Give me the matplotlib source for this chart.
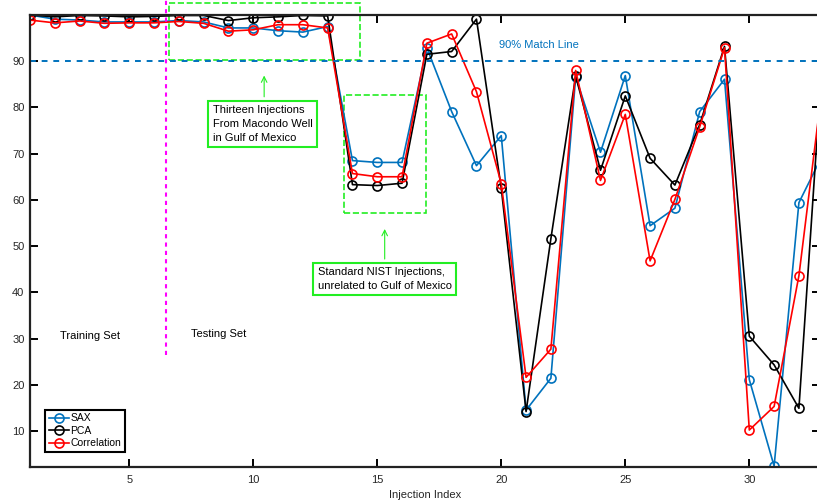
import matplotlib.pyplot as plt
from matplotlib.patches import Rectangle

plt.rcParams['font.family'] = ['Liberation Sans', 'DejaVu Sans']

# injection index 1..33 (33 lies just past the right edge)
idx = list(range(1, 34))

sax = [100.0, 99.1, 98.9, 98.5, 98.5, 98.5, 98.8, 98.5, 97.2, 97.2, 96.6, 96.3, 97.5,
       68.5, 68.1, 68.1, 92.9, 79.1, 67.4, 73.9, 14.5, 21.4, 86.6, 70.3, 86.9,
       54.4, 58.2, 79.1, 86.1, 21.1, 2.4, 59.4, 70.2]
pca = [100.0, 99.6, 99.9, 99.8, 99.6, 99.7, 99.9, 99.9, 98.8, 99.4, 99.6, 99.9, 99.8,
       63.3, 63.1, 63.6, 91.5, 92.1, 99.1, 62.5, 14.2, 51.6, 86.8, 66.4, 82.5,
       69.0, 63.2, 76.3, 93.2, 30.5, 24.3, 14.9, 95.0]
corr = [98.9, 98.3, 98.7, 98.2, 98.3, 98.3, 98.6, 98.2, 96.5, 96.8, 97.9, 97.9, 97.2,
        65.7, 65.0, 65.0, 93.9, 95.9, 83.4, 63.5, 21.6, 27.7, 88.0, 64.2, 78.5,
        46.8, 60.1, 75.8, 92.9, 10.2, 15.3, 43.6, 87.0]

series_names = ['SAX', 'PCA', 'Correlation']
series_colors = ['#0072BD', 'black', 'red']

fig = plt.figure(figsize=(8.17, 5.0), dpi=100)
ax = fig.add_axes([30 / 817, 33 / 500, 790 / 817, 452 / 500])

for vals, name, col in zip([sax, pca, corr], series_names, series_colors):
    ax.plot(idx, vals, '-o', color=col, mfc='none', mec=col, ms=6.5, lw=1.2, mew=1.2, label=name)

ax.set_xlim(1, 32.85)
ax.set_ylim(2.2, 100)
ax.set_xticks([5, 10, 15, 20, 25, 30])
ax.set_yticks(range(10, 100, 10))

# 90% match line
ax.axhline(90, color='#0072BD', ls='--', lw=1.4, dashes=(3, 3))
ax.text(19.9, 93.5, '90% Match Line', color='#0072BD', fontsize=8, va='center', ha='left')

# training / testing split
ax.plot([6.5, 6.5], [26.4, 103.2], color='magenta', ls='--', lw=1.5, dashes=(2, 2), clip_on=False)
ax.text(3.42, 30.5, 'Training Set', fontsize=8, ha='center', va='center')
ax.text(8.59, 31.0, 'Testing Set', fontsize=8, ha='center', va='center')

# highlight boxes
green = '#22EE22'
ax.add_patch(Rectangle((6.62, 90.2), 14.3 - 6.62, 102.5 - 90.2, fill=False, ec=green,
                       ls='--', lw=1.2, clip_on=False))
ax.add_patch(Rectangle((13.65, 57.1), 16.98 - 13.65, 82.6 - 57.1, fill=False, ec=green,
                       ls='--', lw=1.2, clip_on=False))

box = dict(boxstyle='square,pad=0.4', fc='white', ec=green, lw=1.5)
ax.text(10.38, 76.4, 'Thirteen Injections\nFrom Macondo Well\nin Gulf of Mexico', fontsize=8,
        ha='center', va='center', multialignment='left', bbox=box, linespacing=1.45)
ax.text(15.31, 42.9, 'Standard NIST Injections,\nunrelated to Gulf of Mexico', fontsize=8,
        ha='center', va='center', multialignment='left', bbox=box, linespacing=1.45)

ax.annotate('', xy=(10.44, 87.5), xytext=(10.44, 81.7),
            arrowprops=dict(arrowstyle='->', color=green, lw=0.8))
ax.annotate('', xy=(15.3, 54.3), xytext=(15.3, 46.6),
            arrowprops=dict(arrowstyle='->', color=green, lw=0.8))

ax.set_xlabel('Injection Index', fontsize=8, color='#262626', labelpad=3)

for s in ax.spines.values():
    s.set_linewidth(1.6)
    s.set_color('#222222')
ax.tick_params(direction='in', top=True, right=True, length=6, width=1.4,
               labelsize=8, labelcolor='#262626', pad=6)
ax.tick_params(axis='y', pad=4)

leg = ax.legend(loc='lower left', bbox_to_anchor=(0.019, 0.033), borderaxespad=0,
                fontsize=7.5, handlelength=2.0, handletextpad=0.1, labelspacing=0.25,
                fancybox=False, framealpha=1, borderpad=0.35)
leg.get_frame().set_edgecolor('black')
leg.get_frame().set_linewidth(1.5)

fig.savefig('out.png', dpi=100)
